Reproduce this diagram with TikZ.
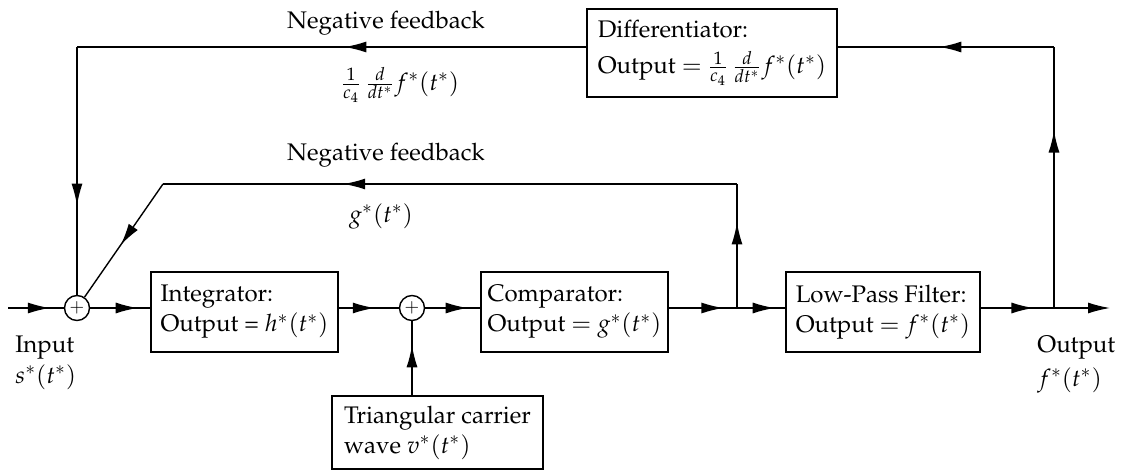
\documentclass[tikz,border=0pt]{standalone}
\usepackage[T1]{fontenc}
\usepackage{mathpazo}
\usetikzlibrary{arrows.meta,decorations.markings,calc}
\tikzset{
  txt/.style={font=\fontsize{12}{15}\selectfont},
  blk/.style={draw, line width=0.7pt, align=left, inner sep=0pt, txt},
  sumc/.style={draw, circle, minimum size=12.5pt, inner sep=0pt, line width=0.7pt, font=\small},
  lbl/.style={inner sep=0pt, txt},
  flow/.style={line width=0.7pt},
  midarr/.style={postaction={decorate}, decoration={markings, mark=at position #1 with {\arrow{Latex[length=11pt,width=5.5pt]}}}},
  endarr/.style={-{Latex[length=11pt,width=5.5pt]}}
}
\begin{document}
\begin{tikzpicture}[x=0.5pt,y=-0.5pt]
\useasboundingbox (0,0) rectangle (1125,471);
% blocks
\node[sumc] (s1) at (77,308) {$+$};
\node[sumc] (s2) at (412,308) {$+$};
\node[blk, minimum width=93.5pt, minimum height=40pt] (intg) at (244.5,312) {Integrator:\\Output = $h^*(t^*)$};
\node[blk, minimum width=93.5pt, minimum height=40pt] (comp) at (574.5,312) {Comparator:\\Output $=$ $g^*(t^*)$};
\node[blk, minimum width=97pt, minimum height=40pt] (lpf) at (883,312) {Low-Pass Filter:\\Output $=$ $f^*(t^*)$};
\node[blk, minimum width=125pt, minimum height=44pt] (diff) at (712,53) {Differentiator:\\[3pt]Output $=$ $\frac{1}{c_4}\,\frac{d}{dt^*}f^*(t^*)$};
\node[blk, minimum width=105.5pt, minimum height=36.5pt] (tri) at (437.5,432.5) {Triangular carrier\\wave $v^*(t^*)$};
% coordinates
\coordinate (in) at (8,308);
\coordinate (j1) at (737,308);
\coordinate (j2) at (1054,308);
\coordinate (out) at (1110,308);
\coordinate (c1) at (737,184);
\coordinate (c2) at (163,184);
\coordinate (c3) at (1054,47);
\coordinate (c4) at (77,47);
% main path
\draw[flow, midarr=0.75] (in) -- (s1);
\draw[flow, midarr=0.79] (s1) -- (s1 -| intg.west);
\draw[flow, midarr=0.60] (s1 -| intg.east) -- (s2);
\draw[flow, midarr=0.77] (s2) -- (s2 -| comp.west);
\draw[flow, midarr=0.80] (s2 -| comp.east) -- (j1);
\draw[flow, midarr=0.78] (j1) -- (j1 -| lpf.west);
\draw[flow, midarr=0.72] (j1 -| lpf.east) -- (j2);
\draw[flow, endarr] (j2) -- (out);
% outer feedback
\draw[flow, midarr=0.68] (j2) -- (c3);
\draw[flow, midarr=0.53] (c3) -- (c3 -| diff.east);
\draw[flow, midarr=0.475] (c3 -| diff.west) -- (c4);
\draw[flow, midarr=0.64] (c4) -- (s1);
% inner feedback
\draw[flow, midarr=0.69] (j1) -- (c1);
\draw[flow, midarr=0.686] (c1) -- (c2);
\draw[flow, midarr=0.54] (c2) -- (s1);
% carrier
\draw[flow, midarr=0.675] (tri.north -| s2) -- (s2);
% labels
\node[lbl, anchor=base] (nf1) at (386,28) {Negative feedback};
\node[lbl] (d1) at (400,85) {$\frac{1}{c_4}\,\frac{d}{dt^*}f^*(t^*)$};
\node[lbl, anchor=base] (nf2) at (386,160) {Negative feedback};
\node[lbl] (g1) at (381,216) {$g^*(t^*)$};
\node[lbl, anchor=base west] (inl) at (15,352) {Input};
\node[lbl, anchor=base west] (ins) at (15,383) {$s^*(t^*)$};
\node[lbl, anchor=base west] (outl) at (1037,352) {Output};
\node[lbl, anchor=base west] (outf) at (1037,386) {$f^*(t^*)$};
\end{tikzpicture}
\end{document}
